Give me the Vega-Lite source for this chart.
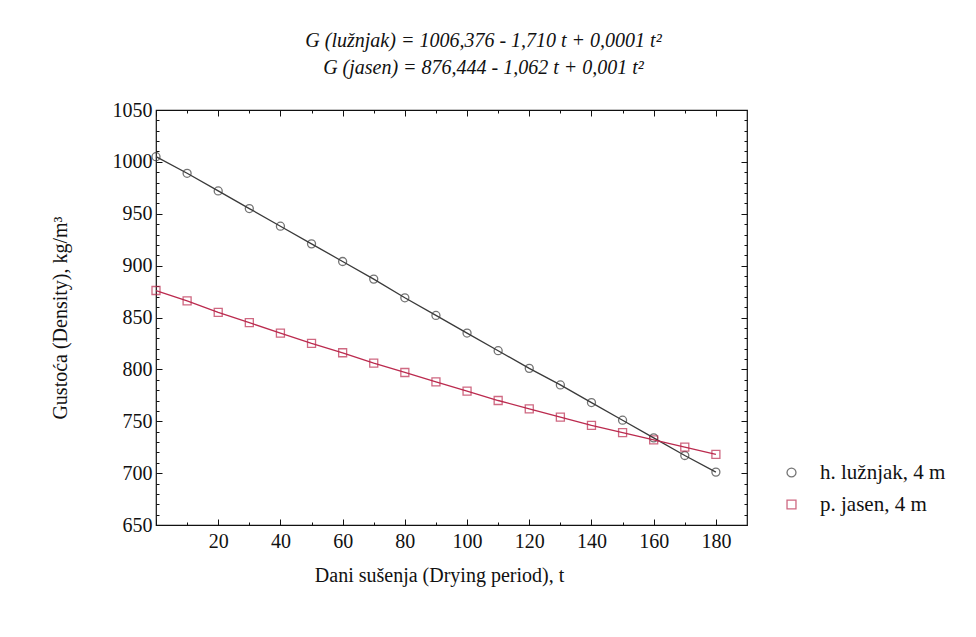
{
  "$schema": "https://vega.github.io/schema/vega-lite/v6.json",
  "autosize": {"type": "none"},
  "width": 591,
  "height": 415,
  "padding": {"left": 156, "top": 110, "right": 229, "bottom": 112},
  "background": "white",
  "title": {
    "text": ["G (lužnjak) = 1006,376 - 1,710 t + 0,0001 t²", "G (jasen) = 876,444 - 1,062 t + 0,001 t²"],
    "anchor": "middle",
    "frame": "group",
    "dx": 32,
    "font": "Liberation Serif",
    "fontStyle": "italic",
    "fontWeight": "normal",
    "fontSize": 20,
    "lineHeight": 27,
    "color": "#111",
    "offset": 22
  },
  "config": {
    "font": "Liberation Serif",
    "view": {"stroke": "#111", "strokeWidth": 1.2},
    "axis": {
      "labelFont": "Liberation Serif",
      "titleFont": "Liberation Serif",
      "labelFontSize": 20,
      "titleFontSize": 20,
      "titleFontWeight": "normal",
      "labelColor": "#111",
      "titleColor": "#111",
      "tickColor": "#111",
      "domainColor": "#111",
      "grid": false
    },
    "legend": {"labelFont": "Liberation Serif", "labelFontSize": 21, "labelColor": "#111"}
  },
  "data": {
    "values": [
      {"t": 0, "G": 1005, "vrsta": "h. lužnjak, 4 m"},
      {"t": 10, "G": 989, "vrsta": "h. lužnjak, 4 m"},
      {"t": 20, "G": 972, "vrsta": "h. lužnjak, 4 m"},
      {"t": 30, "G": 955, "vrsta": "h. lužnjak, 4 m"},
      {"t": 40, "G": 938, "vrsta": "h. lužnjak, 4 m"},
      {"t": 50, "G": 921, "vrsta": "h. lužnjak, 4 m"},
      {"t": 60, "G": 904, "vrsta": "h. lužnjak, 4 m"},
      {"t": 70, "G": 887, "vrsta": "h. lužnjak, 4 m"},
      {"t": 80, "G": 869, "vrsta": "h. lužnjak, 4 m"},
      {"t": 90, "G": 852, "vrsta": "h. lužnjak, 4 m"},
      {"t": 100, "G": 835, "vrsta": "h. lužnjak, 4 m"},
      {"t": 110, "G": 818, "vrsta": "h. lužnjak, 4 m"},
      {"t": 120, "G": 801, "vrsta": "h. lužnjak, 4 m"},
      {"t": 130, "G": 785, "vrsta": "h. lužnjak, 4 m"},
      {"t": 140, "G": 768, "vrsta": "h. lužnjak, 4 m"},
      {"t": 150, "G": 751, "vrsta": "h. lužnjak, 4 m"},
      {"t": 160, "G": 734, "vrsta": "h. lužnjak, 4 m"},
      {"t": 170, "G": 717, "vrsta": "h. lužnjak, 4 m"},
      {"t": 180, "G": 701, "vrsta": "h. lužnjak, 4 m"},
      {"t": 0, "G": 876, "vrsta": "p. jasen, 4 m"},
      {"t": 10, "G": 866, "vrsta": "p. jasen, 4 m"},
      {"t": 20, "G": 855, "vrsta": "p. jasen, 4 m"},
      {"t": 30, "G": 845, "vrsta": "p. jasen, 4 m"},
      {"t": 40, "G": 835, "vrsta": "p. jasen, 4 m"},
      {"t": 50, "G": 825, "vrsta": "p. jasen, 4 m"},
      {"t": 60, "G": 816, "vrsta": "p. jasen, 4 m"},
      {"t": 70, "G": 806, "vrsta": "p. jasen, 4 m"},
      {"t": 80, "G": 797, "vrsta": "p. jasen, 4 m"},
      {"t": 90, "G": 788, "vrsta": "p. jasen, 4 m"},
      {"t": 100, "G": 779, "vrsta": "p. jasen, 4 m"},
      {"t": 110, "G": 770, "vrsta": "p. jasen, 4 m"},
      {"t": 120, "G": 762, "vrsta": "p. jasen, 4 m"},
      {"t": 130, "G": 754, "vrsta": "p. jasen, 4 m"},
      {"t": 140, "G": 746, "vrsta": "p. jasen, 4 m"},
      {"t": 150, "G": 739, "vrsta": "p. jasen, 4 m"},
      {"t": 160, "G": 732, "vrsta": "p. jasen, 4 m"},
      {"t": 170, "G": 725, "vrsta": "p. jasen, 4 m"},
      {"t": 180, "G": 718, "vrsta": "p. jasen, 4 m"}
    ]
  },
  "resolve": {"axis": {"x": "independent", "y": "independent"}},
  "layer": [
    {
      "mark": {"type": "point", "filled": false, "size": 64, "strokeWidth": 1.3},
      "encoding": {
        "x": {
          "field": "t", "type": "quantitative",
          "scale": {"domain": [0, 190], "nice": false, "zero": false},
          "axis": {
            "orient": "bottom",
            "title": "Dani sušenja (Drying period), t",
            "domain": false,
            "values": [0, 10, 20, 30, 40, 50, 60, 70, 80, 90, 100, 110, 120, 130, 140, 150, 160, 170, 180],
            "labelExpr": "datum.value % 20 === 0 && datum.value > 0 ? datum.label : ''",
            "tickSize": {"condition": {"test": "datum.value % 20 === 0", "value": -6}, "value": -3},
            "labelPadding": 12,
            "titlePadding": 14,
            "titleX": 283
          }
        },
        "y": {
          "field": "G", "type": "quantitative",
          "scale": {"domain": [650, 1050], "nice": false, "zero": false},
          "axis": {
            "orient": "left",
            "title": "Gustoća (Density), kg/m³",
            "domain": false,
            "values": [650, 660, 670, 680, 690, 700, 710, 720, 730, 740, 750, 760, 770, 780, 790, 800, 810, 820, 830, 840, 850, 860, 870, 880, 890, 900, 910, 920, 930, 940, 950, 960, 970, 980, 990, 1000, 1010, 1020, 1030, 1040, 1050],
            "labelExpr": "datum.value % 50 === 0 ? format(datum.value, 'd') : ''",
            "tickSize": {"condition": {"test": "datum.value % 50 === 0", "value": -6}, "value": -3},
            "labelPadding": 10,
            "titlePadding": 42
          }
        },
        "color": {
          "field": "vrsta", "type": "nominal",
          "scale": {"domain": ["h. lužnjak, 4 m", "p. jasen, 4 m"], "range": ["#3a3a3a", "#bb2a4e"]},
          "legend": {
            "title": null, "orient": "none", "legendX": 625, "legendY": 352, "padding": 0,
            "symbolSize": 80, "symbolStrokeWidth": 1.3, "rowPadding": 10, "labelOffset": 18
          }
        },
        "shape": {
          "field": "vrsta", "type": "nominal",
          "scale": {"domain": ["h. lužnjak, 4 m", "p. jasen, 4 m"], "range": ["circle", "square"]},
          "legend": {
            "title": null, "orient": "none", "legendX": 625, "legendY": 352, "padding": 0,
            "symbolSize": 80, "symbolStrokeWidth": 1.3, "rowPadding": 10, "labelOffset": 18
          }
        }
      }
    },
    {
      "mark": {"type": "line", "strokeWidth": 1.3},
      "encoding": {
        "x": {
          "field": "t", "type": "quantitative",
          "scale": {"domain": [0, 190], "nice": false, "zero": false},
          "axis": {
            "orient": "top", "title": null, "labels": false, "domain": false,
            "values": [0, 10, 20, 30, 40, 50, 60, 70, 80, 90, 100, 110, 120, 130, 140, 150, 160, 170, 180],
            "tickSize": {"condition": {"test": "datum.value % 20 === 0", "value": -6}, "value": -3}
          }
        },
        "y": {
          "field": "G", "type": "quantitative",
          "scale": {"domain": [650, 1050], "nice": false, "zero": false},
          "axis": {
            "orient": "right", "title": null, "labels": false, "domain": false,
            "values": [650, 660, 670, 680, 690, 700, 710, 720, 730, 740, 750, 760, 770, 780, 790, 800, 810, 820, 830, 840, 850, 860, 870, 880, 890, 900, 910, 920, 930, 940, 950, 960, 970, 980, 990, 1000, 1010, 1020, 1030, 1040, 1050],
            "tickSize": {"condition": {"test": "datum.value % 50 === 0", "value": -6}, "value": -3}
          }
        },
        "color": {"field": "vrsta", "type": "nominal"}
      }
    }
  ]
}
